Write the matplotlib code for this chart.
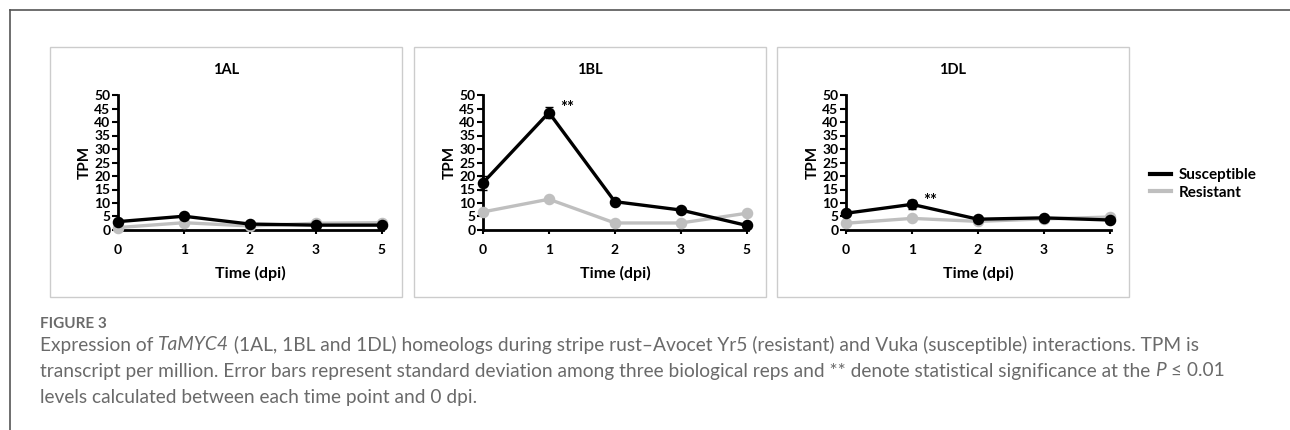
import matplotlib
matplotlib.use("Agg")
import matplotlib.pyplot as plt
from matplotlib.patches import Rectangle
from matplotlib.lines import Line2D

plt.rcParams['font.family'] = ['Lato', 'DejaVu Sans']

W, H = 1290, 430

# data (TPM)
times = ['0', '1', '2', '3', '5']
panels = ['1AL', '1BL', '1DL']

susc_1al = [3.1, 5.1, 2.2, 1.8, 1.8]
resi_1al = [0.9, 2.7, 1.5, 2.5, 2.7]
susc_1bl = [17.5, 43.5, 10.5, 7.4, 1.7]
resi_1bl = [6.7, 11.4, 2.6, 2.6, 6.2]
susc_1dl = [6.2, 9.5, 4.0, 4.5, 3.7]
resi_1dl = [2.5, 4.3, 3.2, 4.1, 4.8]

susc_err_1al = [0.5, 0.4, 0.3, 0.2, 0.2]
resi_err_1al = [0.3, 0.3, 0.2, 0.2, 0.2]
susc_err_1bl = [2.6, 2.0, 1.0, 0.6, 0.4]
resi_err_1bl = [0.5, 0.6, 0.3, 0.3, 0.5]
susc_err_1dl = [1.0, 1.6, 0.4, 0.4, 0.3]
resi_err_1dl = [0.3, 0.4, 0.3, 0.3, 0.3]

# significance marks: (panel, time index, text y)
stars = {'1BL': (1, 45.0), '1DL': (1, 10.7)}

susc = [susc_1al, susc_1bl, susc_1dl]
resi = [resi_1al, resi_1bl, resi_1dl]
susc_err = [susc_err_1al, susc_err_1bl, susc_err_1dl]
resi_err = [resi_err_1al, resi_err_1bl, resi_err_1dl]

BLACK = '#000000'
GREY = '#bfbfbf'


def fx(px):
    return px / W


def fy(py):
    return 1 - py / H


fig = plt.figure(figsize=(W / 100, H / 100), dpi=100)

# outer figure frame (top and left)
fig.add_artist(Line2D([fx(10), 1], [fy(10), fy(10)], color='#555555', lw=1.2))
fig.add_artist(Line2D([fx(10), fx(10)], [fy(10), 0], color='#555555', lw=1.2))

boxes = [(50, 402), (414, 766), (777, 1129)]
yaxis_px = [118, 483, 846]
span_px = 265

for i, name in enumerate(panels):
    bx0, bx1 = boxes[i]
    fig.add_artist(Rectangle((fx(bx0), fy(297)), fx(bx1 - bx0), (297 - 47) / H,
                             fill=False, edgecolor='#cccccc', lw=1.0))
    ax = fig.add_axes([fx(yaxis_px[i]), fy(230), fx(span_px), 135 / H])
    x = list(range(len(times)))
    ax.errorbar(x, resi[i], yerr=resi_err[i], color=GREY, lw=2.4,
                marker='o', ms=7.3, capsize=3, elinewidth=1.5, zorder=2)
    ax.errorbar(x, susc[i], yerr=susc_err[i], color=BLACK, lw=2.4,
                marker='o', ms=7.3, capsize=3, elinewidth=1.5, zorder=3)
    ax.set_xlim(0, 4.02)
    ax.set_ylim(0, 50)
    ax.set_yticks(range(0, 51, 5))
    ax.set_xticks(x)
    ax.set_xticklabels(times)
    for s in ['top', 'right']:
        ax.spines[s].set_visible(False)
    for s in ['left', 'bottom']:
        ax.spines[s].set_linewidth(2)
        ax.spines[s].set_zorder(1)
    ax.tick_params(axis='y', direction='out', length=4, width=1.5,
                   labelsize=10, pad=1.5)
    ax.tick_params(axis='x', direction='out', length=3, width=1.5,
                   labelsize=10, pad=7)
    for lab in ax.get_xticklabels() + ax.get_yticklabels():
        lab.set_fontweight('bold')
    ax.set_ylabel('TPM', fontsize=11, fontweight='bold', labelpad=2)
    ax.set_xlabel('Time (dpi)', fontsize=11.5, fontweight='bold', labelpad=7)
    ax.patch.set_alpha(0)
    for art in ax.lines + ax.collections:
        art.set_clip_on(False)
    fig.text(fx((bx0 + bx1) / 2), fy(70), name, ha='center', va='center',
             fontsize=10.5, fontweight='bold')
    if name in stars:
        k, yv = stars[name]
        ax.text(k + 0.17, yv, '**', ha='left', va='center',
                fontsize=12, fontweight='bold')

handles = [Line2D([], [], color=BLACK, lw=3), Line2D([], [], color=GREY, lw=3)]
fig.legend(handles, ['Susceptible', 'Resistant'], loc='center left',
           bbox_to_anchor=(fx(1136), fy(184)), frameon=False,
           prop={'weight': 'bold', 'size': 11}, handlelength=1.4,
           handletextpad=0.5, labelspacing=0.2)

# caption
cap_color = '#6a6a6a'
fig.text(fx(40), fy(324), 'FIGURE 3', ha='left', va='center',
         fontsize=11, fontweight='bold', color=cap_color)

caption_lines = [
    [('Expression of ', 'normal'), ('TaMYC4', 'italic'),
     (' (1AL, 1BL and 1DL) homeologs during stripe rust\u2013Avocet Yr5 '
      '(resistant) and Vuka (susceptible) interactions. TPM is', 'normal')],
    [('transcript per million. Error bars represent standard deviation among '
      'three biological reps and ** denote statistical significance at the ',
      'normal'), ('P', 'italic'), (' \u2264 0.01', 'normal')],
    [('levels calculated between each time point and 0 dpi.', 'normal')],
]
line_y = [345, 371, 397]

renderer = fig.canvas.get_renderer()
for segs, py in zip(caption_lines, line_y):
    xpos = fx(40)
    for txt, style in segs:
        t = fig.text(xpos, fy(py), txt, ha='left', va='center', fontsize=13.8,
                     style=style, color=cap_color)
        bb = t.get_window_extent(renderer)
        xpos += bb.width / W

fig.savefig('out.png', dpi=100)
